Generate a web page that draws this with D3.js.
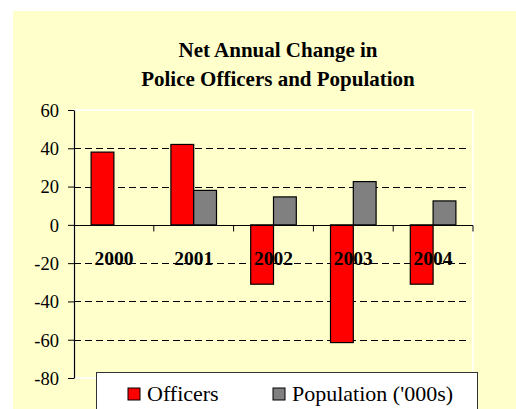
<!DOCTYPE html>
<html><head><meta charset="utf-8">
<script src="https://cdn.jsdelivr.net/npm/d3@7"></script>
<style>body{margin:0;background:#fff}svg{display:block}</style>
</head><body>
<script>
const years = ["2000","2001","2002","2003","2004"];
const seriesNames = ["Officers","Population ('000s)"];
const officers = [38, 42, -31, -61.5, -31];
const population = [null, 18, 14.6, 22.6, 12.5];
const yTicks = [60,40,20,0,-20,-40,-60,-80];
const titleLines = ["Net Annual Change in","Police Officers and Population"];
const colors = ["#FF0000","#808080"];

const W=516,H=409;
const svg=d3.select("body").append("svg").attr("width",W).attr("height",H);
const font='"Liberation Serif"';

svg.append("rect").attr("x",13).attr("y",11).attr("width",W-13).attr("height",H-11).attr("fill","#FFFFCC");

const L=74,R=473,T=110,B=378;
const y=d3.scaleLinear().domain([-80,60]).range([B,T]);
const x=d3.scaleBand().domain(years).range([L,R]).paddingInner(0).paddingOuter(0);
const x1=d3.scaleBand().domain(seriesNames).range([0,x.bandwidth()]).paddingInner(0).paddingOuter(0.75);

svg.append("rect").attr("x",L).attr("y",T).attr("width",R-L).attr("height",B-T).attr("fill","none").attr("stroke","#fff").attr("stroke-width",1.5);

// title
svg.append("g").selectAll("text").data(titleLines).join("text")
  .attr("x",278).attr("y",(d,i)=>57+i*29).attr("text-anchor","middle")
  .style("font-family",font).style("font-weight","bold").style("font-size","21px").attr("fill","#000").text(d=>d);

// gridlines
svg.append("g").selectAll("line").data(yTicks.filter(t=>t!==0&&t!==60&&t!==-80)).join("line")
  .attr("x1",L).attr("x2",R-6).attr("y1",d=>Math.round(y(d))+0.5).attr("y2",d=>Math.round(y(d))+0.5)
  .attr("stroke","#000").attr("stroke-dasharray","7,4").attr("stroke-width",1);

// bars
const data=[];
years.forEach((yr,i)=>{
  [officers[i],population[i]].forEach((v,j)=>{ if(v!==null) data.push({yr,s:seriesNames[j],v,j}); });
});
svg.append("g").selectAll("rect").data(data).join("rect")
  .attr("x",d=>x(d.yr)+x1(d.s)).attr("width",x1.bandwidth())
  .attr("y",d=>y(Math.max(0,d.v))).attr("height",d=>Math.abs(y(d.v)-y(0)))
  .attr("fill",d=>colors[d.j]).attr("stroke","#000").attr("stroke-width",1.2);

// y axis
const yAxis=d3.axisLeft(y).tickValues(yTicks).tickSize(6).tickSizeOuter(0).tickFormat(d3.format("d"));
const ga=svg.append("g").attr("transform",`translate(${L},0)`).call(yAxis);
ga.attr("font-family",null).attr("font-size",null);
ga.select(".domain").attr("stroke","#000").attr("stroke-width",1.2);
ga.selectAll(".tick line").attr("stroke","#000");
ga.selectAll(".tick text").style("font-family",font).style("font-size","18.5px").attr("fill","#000").attr("x",-15).attr("dy","0.34em")
  .text(d=>d<0?"-"+Math.abs(d):d);

// x axis line at zero with category boundary ticks
const zy=Math.round(y(0))+0.5;
svg.append("line").attr("x1",L).attr("x2",R).attr("y1",zy).attr("y2",zy).attr("stroke","#000").attr("stroke-width",1.2);
svg.append("g").selectAll("line").data(years.slice(1).concat(["end"])).join("line")
  .attr("x1",d=>d==="end"?R:x(d)).attr("x2",d=>d==="end"?R:x(d))
  .attr("y1",zy).attr("y2",zy+6).attr("stroke","#000");

// category labels
svg.append("g").selectAll("text").data(years).join("text")
  .attr("x",d=>x(d)+x.bandwidth()/2).attr("y",265).attr("text-anchor","middle")
  .style("font-family",font).style("font-weight","bold").style("font-size","19.5px").attr("fill","#000").text(d=>d);

// legend
svg.append("rect").attr("x",96.5).attr("y",372.5).attr("width",381).attr("height",50).attr("fill","#fff").attr("stroke","#333").attr("stroke-width",1);
const legX=[128,273];
const lg=svg.append("g").selectAll("g").data(seriesNames).join("g").attr("transform",(d,i)=>`translate(${legX[i]},388)`);
lg.append("rect").attr("width",12).attr("height",12).attr("fill",(d,i)=>colors[i]).attr("stroke","#000").attr("stroke-width",1);
lg.append("text").attr("x",19).attr("y",12.5).style("font-family",font).style("font-size","22px").attr("fill","#000").text(d=>d);
</script>
</body></html>
